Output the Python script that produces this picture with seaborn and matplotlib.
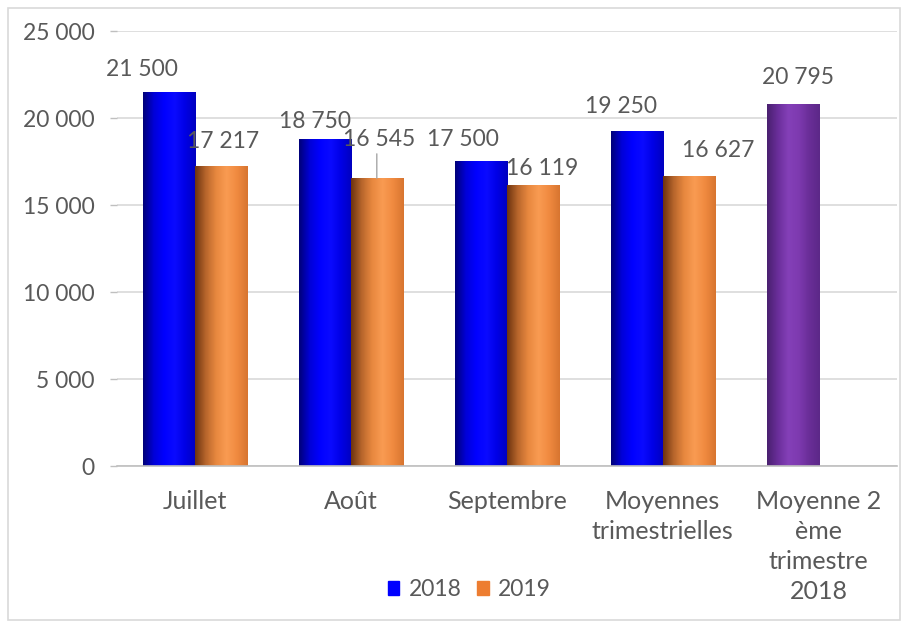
import matplotlib
matplotlib.use("Agg")
import matplotlib.pyplot as plt
import seaborn as sns
import pandas as pd
import numpy as np
from matplotlib.patches import Rectangle
from matplotlib.colors import LinearSegmentedColormap

categories = ["Juillet", "Août", "Septembre", "Moyennes\ntrimestrielles", "Moyenne 2\nème\ntrimestre\n2018"]
values_2018 = [21500, 18750, 17500, 19250, 20795]
values_2019 = [17217, 16545, 16119, 16627, np.nan]
series = ["2018", "2019"]
yticks = [0, 5000, 10000, 15000, 20000, 25000]

def fmt(v):
    return f"{int(round(v)):,}".replace(",", " ")

df = pd.DataFrame({
    "cat": categories * 2,
    "val": values_2018 + values_2019,
    "year": [series[0]] * 5 + [series[1]] * 5,
})

sns.set_theme(style="white")
plt.rcParams["font.family"] = ["Lato", "DejaVu Sans"]
gray = "#595959"
FS = 16.5
FSX = 18

fig = plt.figure(figsize=(9.05, 6.23), dpi=100)
ax = fig.add_axes([0.129, 0.252, 0.862, 0.698])

pal = {"2018": "#0000FF", "2019": "#F0883E"}
sns.barplot(data=df, x="cat", y="val", hue="year", palette=pal, ax=ax,
            width=0.667, saturation=1, edgecolor="none", dodge=True, gap=0)

bars2018 = ax.containers[0]
bars2019 = ax.containers[1]
bars2018[4].set_facecolor("#7A34AA")

# cylinder-like horizontal gradients over each bar
grad = {
    "blue": LinearSegmentedColormap.from_list("b", ["#00007A", "#0000D8", "#0000FF", "#0a0aFF", "#0000E6", "#0000C0"]),
    "orange": LinearSegmentedColormap.from_list("o", ["#6E3410", "#B8662C", "#E8883F", "#F99B52", "#F08A40", "#D87530"]),
    "purple": LinearSegmentedColormap.from_list("p", ["#4A2070", "#6A2E9A", "#8440B8", "#7E3AB0", "#6A2E98", "#5C2888"]),
}
g = np.linspace(0, 1, 64).reshape(1, -1)
for i, b in enumerate(bars2018):
    cm = grad["purple"] if i == 4 else grad["blue"]
    ax.imshow(g, cmap=cm, aspect="auto", extent=(b.get_x(), b.get_x() + b.get_width(), 0, b.get_height()),
              zorder=b.get_zorder() + 0.1, interpolation="bilinear")
for b in bars2019:
    if np.isnan(b.get_height()):
        continue
    ax.imshow(g, cmap=grad["orange"], aspect="auto", extent=(b.get_x(), b.get_x() + b.get_width(), 0, b.get_height()),
              zorder=b.get_zorder() + 0.1, interpolation="bilinear")
ax.set_ylim(0, 25000)
ax.set_xlim(-0.5, 4.5)

ax.set_yticks(yticks)
ax.set_yticklabels([fmt(v) for v in yticks], fontsize=FS, color=gray)
ax.tick_params(axis="y", length=5, color="#bfbfbf", width=1, pad=11, left=True)
ax.tick_params(axis="x", length=0, pad=17, labelsize=FSX, labelcolor=gray)
for t in ax.get_xticklabels():
    t.set_linespacing(1.38)
ax.set_xlabel("")
ax.set_ylabel("")
ax.yaxis.grid(True, color="#d9d9d9", linewidth=1.2)
ax.set_axisbelow(True)
for s in ["top", "right", "left"]:
    ax.spines[s].set_visible(False)
ax.spines["bottom"].set_color("#bfbfbf")
ax.spines["bottom"].set_linewidth(1.2)

# data labels: offsets in points from top-centre of each bar
offs = {
    (0, 0): (-19, 16), (1, 0): (2, 18),
    (0, 1): (-7, 13), (1, 1): (2, 28),
    (0, 2): (-13, 16), (1, 2): (7, 12),
    (0, 3): (-11.5, 18), (1, 3): (21, 19),
    (0, 4): (3.5, 19),
}
for (ci, i), (dx, dy) in offs.items():
    b = ax.containers[ci][i]
    h = b.get_height()
    if np.isnan(h):
        continue
    x = b.get_x() + b.get_width() / 2
    ax.annotate(fmt(h), (x, h), xytext=(dx, dy), textcoords="offset points",
                ha="center", va="center", fontsize=FS, color=gray, zorder=5)
# leader line for 16 545
b = bars2019[1]
x = b.get_x() + b.get_width() / 2
ax.annotate("", (x, b.get_height()), xytext=(x, b.get_height() + 1400),
            arrowprops=dict(arrowstyle="-", color="#a6a6a6", lw=1, shrinkA=0, shrinkB=0))

handles = [Rectangle((0, 0), 1, 1, color=pal["2018"]), Rectangle((0, 0), 1, 1, color="#ED7D31")]
ax.legend(handles, series, loc="center", bbox_to_anchor=(0.452, -0.285), ncol=2,
          frameon=False, fontsize=FS, labelcolor=gray, handlelength=0.5, handleheight=0.55,
          handletextpad=0.4, columnspacing=0.7)

fig.patches.append(Rectangle((0.009, 0.005), 0.985, 0.982, transform=fig.transFigure,
                             fill=False, edgecolor="#d9d9d9", linewidth=1.2))
fig.savefig("out.png", dpi=100)
